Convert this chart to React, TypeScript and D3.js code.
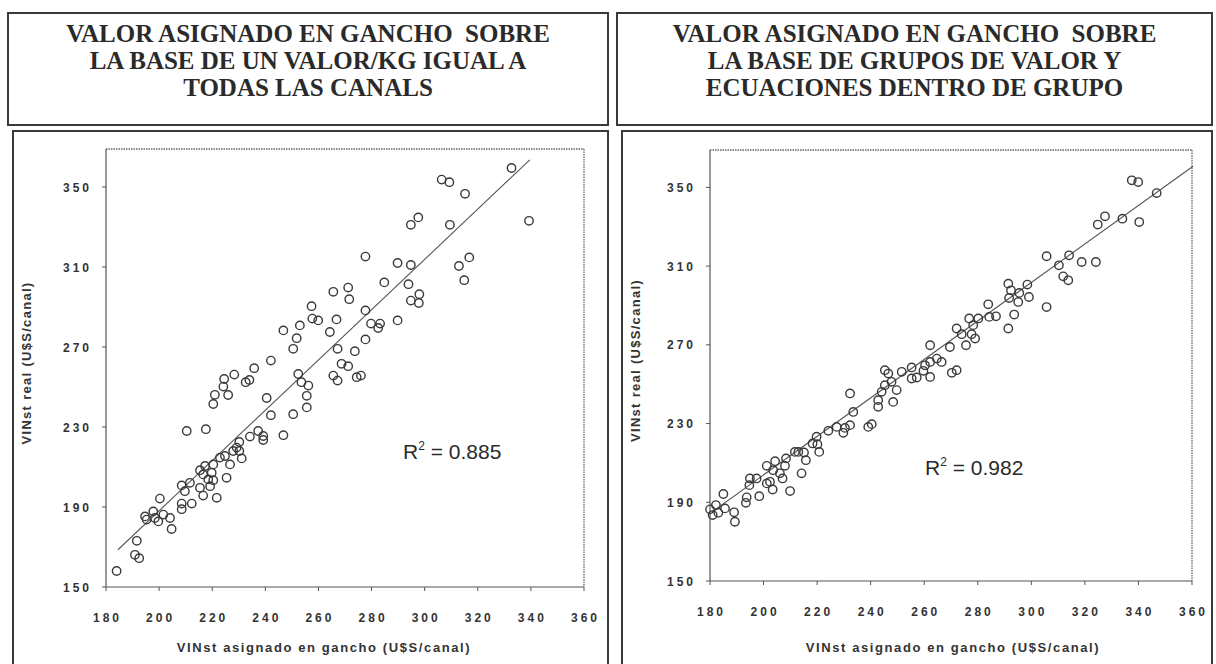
import React from "react";
import * as d3 from "d3";

// VINst assigned on the hook vs. real VINst, one value per carcass (U$S/canal)
const equalPricePoints: [number, number][] = [
  [332.7, 359.5], [306.4, 353.7], [309.3, 352.4], [315.2, 346.6], [339.3, 333.1],
  [294.8, 331.1], [297.6, 334.8], [309.5, 331.1], [277.7, 315.2], [289.8, 312],
  [294.8, 311], [312.9, 310.5], [316.8, 314.8], [314.9, 303.4], [284.8, 302.3],
  [293.9, 301.4], [265.6, 297.6], [271.2, 299.7], [271.6, 293.9], [294.8, 293.2],
  [298, 296.4], [297.8, 292], [257.4, 290.4], [253, 280.8], [257.7, 284.2],
  [259.9, 283.3], [266.8, 283.8], [277.7, 288.3], [264.3, 277.5], [279.8, 281.7],
  [283.2, 281.7], [282.5, 279.5], [289.8, 283.3], [277.7, 273.8], [267.2, 269.1],
  [273.7, 267.9], [268.7, 261.6], [271.2, 260.4], [265.6, 255.7], [267.2, 253.2],
  [274.4, 254.9], [276, 255.7], [246.8, 278.3], [251.8, 274.4], [250.5, 269.1],
  [242.1, 263.2], [235.8, 259.4], [228.3, 256.2], [224.5, 254], [232.6, 252.4],
  [234, 253.5], [224.2, 250.2], [221, 246.1], [226, 246], [220.4, 241.5],
  [240.5, 244.5], [242.1, 235.9], [250.5, 236.4], [252.4, 256.5], [253.6, 252.4],
  [256.2, 250.7], [255.6, 245.6], [255.6, 239.8], [210.4, 228], [217.6, 228.9],
  [246.8, 225.9], [237.3, 228], [239.2, 225.5], [239.2, 223.5], [234.2, 225.2],
  [230.2, 222.5], [229.2, 219.7], [230.2, 218], [231.1, 214.3], [227.9, 218],
  [224.8, 215.5], [226.7, 211.3], [222.9, 214.7], [220.4, 211.3], [217.3, 210.5],
  [215.4, 208.4], [216.6, 206.3], [219.8, 207.1], [220.4, 203.4], [218.5, 203.8],
  [219.2, 200.4], [225.4, 204.6], [215.4, 199.6], [216.6, 195.7], [221.7, 194.6],
  [211.6, 202.1], [208.5, 200.8], [209.7, 197.9], [208.5, 191.7], [208.5, 188.9],
  [212.3, 191.7], [200.3, 194.2], [197.8, 187.8], [194.7, 185.3], [195.3, 183.7],
  [198.4, 184.5], [199.7, 182.8], [201.6, 186.2], [204.1, 184.5], [204.7, 179],
  [191.6, 173.1], [190.9, 166.1], [192.5, 164.4], [184, 158],
];

const groupEquationPoints: [number, number][] = [
  [337.5, 353.6], [339.9, 352.7], [346.8, 347.1], [334, 334.1], [340.3, 332.4],
  [324.8, 331.1], [327.5, 335.3], [305.7, 315], [314.1, 315.5], [310.3, 310.4],
  [318.8, 312.1], [324.1, 312.1], [311.9, 304.8], [313.8, 302.8], [291.4, 301.1],
  [298.5, 300.6], [292.4, 297.7], [295.5, 296.4], [291.7, 293.8], [299.1, 294.3],
  [295.1, 291.8], [305.7, 289.2], [293.6, 285.4], [291.4, 278.3], [283.9, 290.6],
  [286.8, 284.5], [284.3, 284.2], [280.2, 283.4], [276.8, 283.4], [278.3, 280],
  [272.1, 278.3], [274, 275.4], [277.7, 275.4], [279, 273.2], [275.6, 269.8],
  [269.6, 268.9], [262.2, 269.8], [264.7, 263], [266.5, 261.3], [262.2, 261.3],
  [260.3, 259.6], [259.7, 256.8], [262.2, 253.7], [257.2, 253.4], [255.3, 252.9],
  [270.3, 255.8], [272.1, 257.1], [255.3, 258.5], [251.6, 256.3], [245.3, 257.1],
  [246.6, 255.4], [247.8, 251.2], [245.3, 249.5], [249.7, 247], [244.1, 246.1],
  [248.4, 241], [242.8, 241.9], [242.8, 238.5], [232.3, 245.3], [233.5, 235.9],
  [239.1, 228.3], [240.4, 229.7], [232.3, 229.2], [229.8, 225.3], [227.3, 228.3],
  [224.2, 226.3], [230.4, 227.8], [219.8, 223.3], [218.3, 219.9], [220.1, 219.5],
  [220.8, 215.6], [215.1, 215.3], [213, 215.6], [215.8, 211.4], [214.2, 204.7],
  [211.7, 215.6], [208.4, 212.3], [208, 208.5], [204.3, 210.9], [201.2, 208.5],
  [203.6, 206.3], [206.1, 204.7], [207.1, 202.1], [202.4, 200.4], [201.2, 199.6],
  [203.4, 196.5], [209.9, 195.7], [194.9, 202.1], [197.4, 202.1], [194.7, 198.7],
  [198.4, 193.1], [193.7, 192.5], [193.4, 189.7], [185, 194.2], [182.2, 188.6],
  [180, 186.4], [181, 183.5], [183.1, 184.7], [185.6, 186.9], [189, 184.9],
  [189.3, 180.1],
];

// Fitted trend lines: [slope, intercept, xStart, xEnd]
const equalPriceFit = [1.257, -63.3, 184.5, 339.6];
const groupEquationFit = [0.978, 8.3, 180.7, 360.4];

const rSquared = ["0.885", "0.982"];

const xTicks = [180, 200, 220, 240, 260, 280, 300, 320, 340, 360];
const yTicks = [150, 190, 230, 270, 310, 350];

const titleLeft = [
  "VALOR ASIGNADO EN GANCHO  SOBRE",
  "LA BASE DE UN VALOR/KG IGUAL A",
  "TODAS LAS CANALS",
];
const titleRight = [
  "VALOR ASIGNADO EN GANCHO  SOBRE",
  "LA BASE DE GRUPOS DE VALOR Y",
  "ECUACIONES DENTRO DE GRUPO",
];

const xAxisTitle = "VINst asignado en gancho (U$S/canal)";
const yAxisTitle = "VINst real (U$S/canal)";

const INK = "#333";
const SANS = "Arial, 'Liberation Sans', Helvetica, sans-serif";
const SERIF = "'Times New Roman', 'Liberation Serif', serif";

type PanelProps = {
  title: string[];
  points: [number, number][];
  fit: number[];
  r2: string;
  titleBox: { x: number; y: number; w: number; h: number };
  chartBox: { x: number; y: number; w: number; h: number };
  plot: { l: number; r: number; t: number; b: number };
  xTitleX: number;
  yTitleX: number;
  r2Pos: [number, number];
};

function Panel(p: PanelProps) {
  const x = d3.scaleLinear().domain([180, 360]).range([p.plot.l, p.plot.r]);
  const y = d3.scaleLinear().domain([150, 369]).range([p.plot.b, p.plot.t]);
  const [slope, intercept, x0, x1] = p.fit;
  const line = d3
    .line<number>()
    .x((v) => x(v))
    .y((v) => y(slope * v + intercept));
  const titleMid = p.titleBox.x + p.titleBox.w / 2;
  const yMid = (p.plot.t + p.plot.b) / 2;

  return (
    <g>
      {/* title box */}
      <rect
        x={p.titleBox.x}
        y={p.titleBox.y}
        width={p.titleBox.w}
        height={p.titleBox.h}
        fill="white"
        stroke="#3a3a3a"
        strokeWidth={2}
      />
      {p.title.map((t, i) => (
        <text
          key={i}
          x={titleMid}
          y={p.titleBox.y + 29 + i * 27}
          textAnchor="middle"
          fontFamily={SERIF}
          fontWeight="bold"
          fontSize={25}
          fill="#2a2a2a"
          style={{ whiteSpace: "pre" }}
        >
          {t}
        </text>
      ))}

      {/* chart box */}
      <rect
        x={p.chartBox.x}
        y={p.chartBox.y}
        width={p.chartBox.w}
        height={p.chartBox.h}
        fill="white"
        stroke="#3a3a3a"
        strokeWidth={2}
      />

      {/* plot frame: top and right dotted */}
      <line x1={p.plot.l} x2={p.plot.r} y1={p.plot.t} y2={p.plot.t}
        stroke="#666" strokeWidth={1.3} strokeDasharray="1.5,1" />
      <line x1={p.plot.r} x2={p.plot.r} y1={p.plot.t} y2={p.plot.b}
        stroke="#666" strokeWidth={1.3} strokeDasharray="1.5,1" />
      <line x1={p.plot.l} x2={p.plot.l} y1={p.plot.t} y2={p.plot.b}
        stroke="#555" strokeWidth={1.2} />
      <line x1={p.plot.l} x2={p.plot.r} y1={p.plot.b} y2={p.plot.b}
        stroke="#555" strokeWidth={1.2} />

      {/* y ticks */}
      {yTicks.map((v) => (
        <g key={v}>
          <line x1={p.plot.l - 4} x2={p.plot.l} y1={y(v)} y2={y(v)} stroke="#555" />
          <text
            x={p.plot.l - 14}
            y={y(v) + 4.5}
            textAnchor="end"
            fontFamily={SANS}
            fontWeight="bold"
            fontSize={12}
            letterSpacing={3}
            fill={INK}
          >
            {v}
          </text>
        </g>
      ))}

      {/* x ticks */}
      {xTicks.map((v) => (
        <g key={v}>
          <line x1={x(v)} x2={x(v)} y1={p.plot.b} y2={p.plot.b + 4} stroke="#555" />
          <text
            x={x(v) + 1.5}
            y={p.plot.b + 35}
            textAnchor="middle"
            fontFamily={SANS}
            fontWeight="bold"
            fontSize={12}
            letterSpacing={3}
            fill={INK}
          >
            {v}
          </text>
        </g>
      ))}

      {/* axis titles */}
      <text
        x={p.xTitleX}
        y={652}
        textAnchor="middle"
        fontFamily={SANS}
        fontWeight="bold"
        fontSize={13}
        letterSpacing={1.6}
        fill={INK}
      >
        {xAxisTitle}
      </text>
      <text
        transform={`translate(${p.yTitleX},${yMid - 5}) rotate(-90)`}
        textAnchor="middle"
        fontFamily={SANS}
        fontWeight="bold"
        fontSize={13}
        letterSpacing={1.3}
        fill={INK}
      >
        {yAxisTitle}
      </text>

      {/* trend line */}
      <path d={line([x0, x1]) ?? ""} fill="none" stroke="#555" strokeWidth={1.1} />

      {/* observations */}
      {p.points.map(([vx, vy], i) => (
        <circle
          key={i}
          cx={x(vx)}
          cy={y(vy)}
          r={4.2}
          fill="none"
          stroke="#3a3a3a"
          strokeWidth={1.4}
        />
      ))}

      {/* coefficient of determination */}
      <text
        x={p.r2Pos[0]}
        y={p.r2Pos[1]}
        fontFamily={SANS}
        fontSize={21}
        fill="#2a2a2a"
      >
        R<tspan dy={-9} fontSize={12}>2</tspan>
        <tspan dy={9}>{` = ${p.r2}`}</tspan>
      </text>
    </g>
  );
}

export default function App() {
  return (
    <svg
      width={1216}
      height={664}
      style={{ position: "absolute", left: 0, top: 0, background: "white" }}
    >
      <rect x={0} y={0} width={1216} height={664} fill="white" />
      <Panel
        title={titleLeft}
        points={equalPricePoints}
        fit={equalPriceFit}
        r2={rSquared[0]}
        titleBox={{ x: 8, y: 13, w: 600, h: 112 }}
        chartBox={{ x: 13, y: 131, w: 595, h: 545 }}
        plot={{ l: 106, r: 584, t: 149, b: 587 }}
        xTitleX={324}
        yTitleX={31}
        r2Pos={[403, 459]}
      />
      <Panel
        title={titleRight}
        points={groupEquationPoints}
        fit={groupEquationFit}
        r2={rSquared[1]}
        titleBox={{ x: 617, y: 13, w: 595, h: 112 }}
        chartBox={{ x: 622, y: 131, w: 590, h: 545 }}
        plot={{ l: 710, r: 1192, t: 150, b: 581 }}
        xTitleX={953}
        yTitleX={640}
        r2Pos={[925, 475]}
      />
    </svg>
  );
}
